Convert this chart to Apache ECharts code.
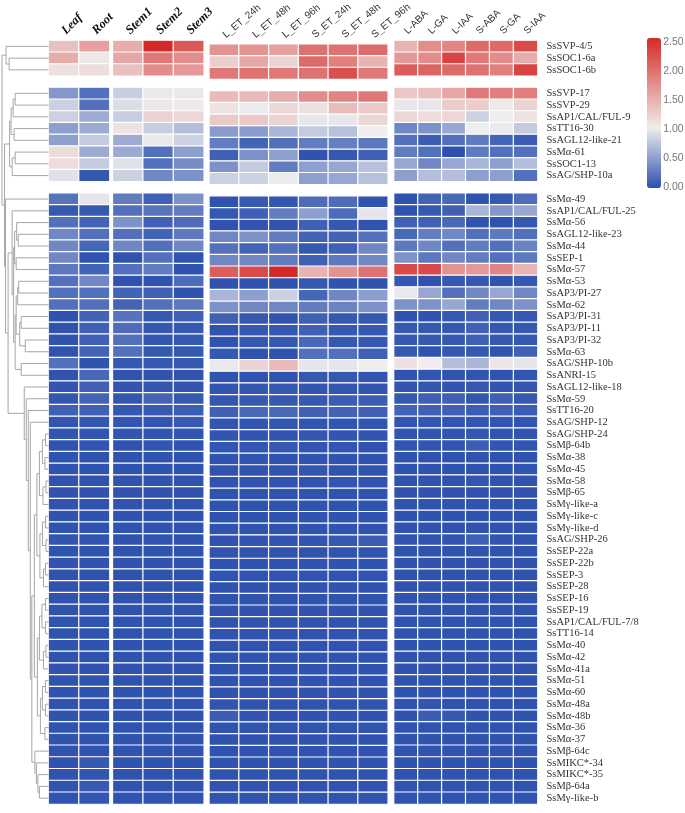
<!DOCTYPE html>
<html>
<head>
<meta charset="utf-8">
<script src="https://cdn.jsdelivr.net/npm/echarts@6/dist/echarts.min.js"></script>
<style>html,body{margin:0;padding:0;background:#fff;}#chart{width:685px;height:813px;}</style>
</head>
<body>
<div id="chart"></div>
<script>
// ---------------- column (sample) labels ----------------
const tissueCols = ['Leaf', 'Root'];
const stemCols = ['Stem1', 'Stem2', 'Stem3'];
const etCols = ['L_ET_24h', 'L_ET_48h', 'L_ET_96h', 'S_ET_24h', 'S_ET_48h', 'S_ET_96h'];
const hormoneCols = ['L-ABA', 'L-GA', 'L-IAA', 'S-ABA', 'S-GA', 'S-IAA'];

// ---------------- gene clusters (row labels) ----------------
const genesA = ['SsSVP-4/5', 'SsSOC1-6a', 'SsSOC1-6b'];
const genesB = ['SsSVP-17', 'SsSVP-29', 'SsAP1/CAL/FUL-9', 'SsTT16-30', 'SsAGL12-like-21', 'SsMα-61', 'SsSOC1-13', 'SsAG/SHP-10a'];
const genesC = ['SsMα-49', 'SsAP1/CAL/FUL-25', 'SsMα-56', 'SsAGL12-like-23', 'SsMα-44', 'SsSEP-1', 'SsMα-57', 'SsMα-53',
  'SsAP3/PI-27', 'SsMα-62', 'SsAP3/PI-31', 'SsAP3/PI-11', 'SsAP3/PI-32', 'SsMα-63', 'SsAG/SHP-10b', 'SsANRI-15',
  'SsAGL12-like-18', 'SsMα-59', 'SsTT16-20', 'SsAG/SHP-12', 'SsAG/SHP-24', 'SsMβ-64b', 'SsMα-38', 'SsMα-45', 'SsMα-58',
  'SsMβ-65', 'SsMγ-like-a', 'SsMγ-like-c', 'SsMγ-like-d', 'SsAG/SHP-26', 'SsSEP-22a', 'SsSEP-22b', 'SsSEP-3', 'SsSEP-28',
  'SsSEP-16', 'SsSEP-19', 'SsAP1/CAL/FUL-7/8', 'SsTT16-14', 'SsMα-40', 'SsMα-42', 'SsMα-41a', 'SsMα-51', 'SsMα-60',
  'SsMα-48a', 'SsMα-48b', 'SsMα-36', 'SsMα-37', 'SsMβ-64c', 'SsMIKC*-34', 'SsMIKC*-35', 'SsMβ-64a', 'SsMγ-like-b'];

// ---------------- expression values (17 columns per gene) ----------------
// order: Leaf, Root, Stem1-3, L_ET 24/48/96h, S_ET 24/48/96h, L-ABA, L-GA, L-IAA, S-ABA, S-GA, S-IAA
const valuesA = [
  [1.35, 1.6, 1.5, 2.5, 2.15, 1.7, 1.7, 1.6, 1.95, 1.95, 2.0, 1.45, 1.75, 1.8, 2.0, 2.0, 2.25],
  [1.5, 1.05, 1.55, 1.9, 1.75, 1.25, 1.55, 1.2, 2.0, 1.85, 1.45, 1.65, 1.75, 2.3, 1.9, 1.75, 1.5],
  [1.1, 1.12, 1.35, 1.75, 1.65, 1.9, 1.95, 1.9, 1.95, 2.2, 1.9, 2.1, 2.05, 2.0, 1.95, 1.85, 2.3]
];
const valuesB = [
  [0.45, 0.2, 0.8, 0.97, 0.97, 1.4, 1.4, 1.5, 1.75, 1.8, 1.9, 1.3, 1.35, 1.55, 1.9, 1.85, 1.85],
  [0.82, 0.2, 0.9, 1.05, 1.03, 1.08, 0.98, 1.17, 1.1, 1.38, 1.28, 0.96, 0.96, 1.25, 1.25, 1.03, 1.2],
  [0.82, 0.58, 0.8, 1.22, 1.17, 1.28, 1.28, 1.2, 0.96, 0.96, 1.17, 1.17, 1.13, 1.18, 0.82, 1.0, 1.08],
  [0.5, 0.58, 1.08, 0.8, 0.7, 0.48, 0.48, 0.65, 0.78, 0.72, 1.0, 0.35, 0.42, 0.55, 1.0, 0.98, 0.78],
  [0.5, 0.78, 0.58, 0.97, 0.82, 0.28, 0.12, 0.2, 0.28, 0.3, 0.25, 0.2, 0.08, 0.2, 0.27, 0.13, 0.08],
  [1.15, 0.58, 0.58, 0.2, 0.5, 0.1, 0.42, 0.5, 0.02, 0.05, 0.1, 0.27, 0.2, 0.0, 0.27, 0.2, 0.2],
  [1.12, 0.78, 0.93, 0.2, 0.38, 0.42, 0.78, 0.28, 0.5, 0.55, 0.72, 0.55, 0.35, 0.55, 0.65, 0.5, 0.7],
  [0.93, 0.05, 0.82, 0.35, 0.42, 0.82, 0.82, 0.98, 0.5, 0.55, 0.72, 0.5, 0.7, 0.7, 0.5, 0.5, 0.2]
];
const valuesC = [
  [0.22, 0.95, 0.28, 0.1, 0.42, 0.02, 0.06, 0.04, 0.18, 0.18, 0.02, 0.02, 0.12, 0.15, 0.02, 0.05, 0.18],
  [0.05, 0.05, 0.2, 0.22, 0.28, 0.05, 0.1, 0.28, 0.5, 0.18, 0.95, 0.02, 0.05, 0.1, 0.65, 0.45, 0.55],
  [0.2, 0.12, 0.42, 0.1, 0.18, 0.02, 0.02, 0.02, 0.1, 0.05, 0.02, 0.1, 0.1, 0.15, 0.02, 0.02, 0.05],
  [0.35, 0.2, 0.2, 0.12, 0.26, 0.35, 0.42, 0.28, 0.12, 0.12, 0.2, 0.15, 0.28, 0.35, 0.2, 0.25, 0.2],
  [0.35, 0.14, 0.35, 0.2, 0.35, 0.2, 0.12, 0.2, 0.05, 0.1, 0.35, 0.25, 0.35, 0.2, 0.28, 0.2, 0.32],
  [0.35, 0.02, 0.02, 0.2, 0.02, 0.35, 0.35, 0.28, 0.1, 0.25, 0.35, 0.42, 0.25, 0.35, 0.28, 0.2, 0.25],
  [0.25, 0.12, 0.2, 0.28, 0.02, 2.1, 2.25, 2.5, 1.45, 1.7, 1.95, 2.25, 2.25, 1.7, 1.65, 1.8, 1.45],
  [0.2, 0.35, 0.02, 0.02, 0.18, 0.02, 0.02, 0.02, 0.05, 0.02, 0.02, 0.05, 0.02, 0.05, 0.05, 0.02, 0.05],
  [0.2, 0.2, 0.12, 0.1, 0.02, 0.65, 0.5, 0.82, 0.14, 0.35, 0.5, 0.97, 0.55, 0.2, 0.35, 0.55, 0.35],
  [0.2, 0.2, 0.12, 0.2, 0.25, 0.42, 0.35, 0.35, 0.28, 0.32, 0.42, 0.42, 0.42, 0.55, 0.28, 0.35, 0.42],
  [0.02, 0.12, 0.22, 0.05, 0.1, 0.1, 0.05, 0.02, 0.1, 0.05, 0.05, 0.02, 0.02, 0.05, 0.1, 0.05, 0.05],
  [0.02, 0.1, 0.18, 0.05, 0.05, 0.02, 0.05, 0.05, 0.1, 0.05, 0.05, 0.05, 0.05, 0.05, 0.1, 0.05, 0.05],
  [0.02, 0.1, 0.2, 0.04, 0.05, 0.02, 0.05, 0.05, 0.15, 0.05, 0.05, 0.05, 0.05, 0.05, 0.1, 0.05, 0.05],
  [0.02, 0.12, 0.2, 0.05, 0.05, 0.05, 0.02, 0.02, 0.2, 0.2, 0.1, 0.05, 0.02, 0.05, 0.05, 0.02, 0.1],
  [0.2, 0.02, 0.05, 0.05, 0.05, 0.97, 1.2, 1.4, 0.95, 0.95, 1.0, 1.1, 1.0, 0.7, 0.65, 1.06, 0.95],
  [0.02, 0.15, 0.02, 0.02, 0.02, 0.02, 0.02, 0.02, 0.05, 0.05, 0.03, 0.02, 0.03, 0.02, 0.03, 0.02, 0.03],
  [0.03, 0.1, 0.03, 0.04, 0.03, 0.03, 0.04, 0.05, 0.03, 0.04, 0.03, 0.03, 0.04, 0.03, 0.05, 0.03, 0.04],
  [0.04, 0.12, 0.04, 0.12, 0.05, 0.04, 0.05, 0.06, 0.05, 0.08, 0.08, 0.05, 0.1, 0.1, 0.04, 0.1, 0.05],
  [0.1, 0.1, 0.05, 0.06, 0.08, 0.1, 0.15, 0.15, 0.1, 0.12, 0.1, 0.12, 0.1, 0.1, 0.08, 0.1, 0.08],
  [0.03, 0.04, 0.03, 0.03, 0.06, 0.03, 0.03, 0.04, 0.03, 0.03, 0.03, 0.03, 0.04, 0.03, 0.03, 0.03, 0.03],
  [0.03, 0.03, 0.03, 0.03, 0.03, 0.03, 0.03, 0.03, 0.04, 0.03, 0.03, 0.03, 0.03, 0.03, 0.04, 0.03, 0.03],
  [0.02, 0.03, 0.02, 0.03, 0.02, 0.03, 0.03, 0.05, 0.03, 0.03, 0.02, 0.03, 0.03, 0.03, 0.08, 0.03, 0.03],
  [0.02, 0.02, 0.02, 0.02, 0.02, 0.02, 0.03, 0.02, 0.02, 0.02, 0.02, 0.02, 0.02, 0.02, 0.02, 0.02, 0.02],
  [0.02, 0.02, 0.02, 0.02, 0.02, 0.02, 0.02, 0.02, 0.03, 0.02, 0.02, 0.02, 0.02, 0.02, 0.02, 0.02, 0.03],
  [0.02, 0.02, 0.02, 0.02, 0.02, 0.02, 0.02, 0.02, 0.02, 0.03, 0.02, 0.02, 0.02, 0.02, 0.03, 0.02, 0.02],
  [0.02, 0.02, 0.02, 0.02, 0.02, 0.02, 0.02, 0.02, 0.02, 0.02, 0.02, 0.02, 0.02, 0.02, 0.02, 0.02, 0.02],
  [0.02, 0.02, 0.02, 0.02, 0.02, 0.02, 0.02, 0.02, 0.02, 0.02, 0.02, 0.02, 0.02, 0.02, 0.02, 0.02, 0.02],
  [0.02, 0.02, 0.02, 0.02, 0.02, 0.02, 0.02, 0.02, 0.02, 0.02, 0.02, 0.02, 0.02, 0.02, 0.02, 0.02, 0.02],
  [0.02, 0.02, 0.02, 0.02, 0.02, 0.02, 0.02, 0.02, 0.02, 0.02, 0.02, 0.02, 0.02, 0.02, 0.02, 0.02, 0.02],
  [0.03, 0.03, 0.02, 0.03, 0.02, 0.02, 0.03, 0.03, 0.03, 0.05, 0.08, 0.03, 0.03, 0.03, 0.1, 0.03, 0.03],
  [0.02, 0.02, 0.02, 0.02, 0.02, 0.02, 0.02, 0.02, 0.02, 0.02, 0.02, 0.02, 0.02, 0.02, 0.02, 0.02, 0.02],
  [0.02, 0.02, 0.02, 0.02, 0.02, 0.02, 0.02, 0.02, 0.02, 0.02, 0.02, 0.02, 0.02, 0.02, 0.02, 0.02, 0.02],
  [0.02, 0.02, 0.02, 0.02, 0.02, 0.02, 0.02, 0.02, 0.02, 0.02, 0.02, 0.02, 0.02, 0.02, 0.02, 0.02, 0.02],
  [0.02, 0.02, 0.02, 0.02, 0.02, 0.02, 0.02, 0.02, 0.02, 0.02, 0.02, 0.02, 0.02, 0.02, 0.02, 0.02, 0.02],
  [0.02, 0.02, 0.02, 0.02, 0.02, 0.02, 0.02, 0.02, 0.02, 0.02, 0.02, 0.02, 0.02, 0.02, 0.02, 0.02, 0.02],
  [0.02, 0.02, 0.02, 0.02, 0.02, 0.02, 0.02, 0.02, 0.02, 0.02, 0.02, 0.02, 0.02, 0.02, 0.02, 0.02, 0.02],
  [0.02, 0.02, 0.02, 0.02, 0.02, 0.02, 0.02, 0.02, 0.02, 0.02, 0.02, 0.02, 0.02, 0.02, 0.02, 0.02, 0.02],
  [0.02, 0.02, 0.02, 0.02, 0.02, 0.02, 0.02, 0.02, 0.02, 0.02, 0.02, 0.02, 0.02, 0.02, 0.02, 0.02, 0.02],
  [0.02, 0.02, 0.02, 0.02, 0.02, 0.02, 0.02, 0.02, 0.02, 0.02, 0.02, 0.02, 0.02, 0.02, 0.02, 0.02, 0.02],
  [0.02, 0.02, 0.02, 0.02, 0.02, 0.02, 0.02, 0.02, 0.02, 0.02, 0.02, 0.02, 0.02, 0.02, 0.02, 0.02, 0.02],
  [0.02, 0.02, 0.02, 0.02, 0.02, 0.02, 0.02, 0.02, 0.02, 0.02, 0.02, 0.02, 0.02, 0.02, 0.02, 0.02, 0.02],
  [0.02, 0.02, 0.02, 0.02, 0.02, 0.02, 0.02, 0.02, 0.02, 0.02, 0.02, 0.02, 0.02, 0.02, 0.02, 0.02, 0.02],
  [0.02, 0.02, 0.02, 0.02, 0.02, 0.02, 0.02, 0.02, 0.02, 0.02, 0.02, 0.02, 0.02, 0.02, 0.02, 0.02, 0.02],
  [0.02, 0.02, 0.02, 0.02, 0.02, 0.03, 0.02, 0.02, 0.02, 0.02, 0.02, 0.02, 0.03, 0.02, 0.02, 0.02, 0.02],
  [0.02, 0.02, 0.02, 0.02, 0.02, 0.08, 0.03, 0.02, 0.02, 0.02, 0.02, 0.02, 0.08, 0.06, 0.02, 0.02, 0.02],
  [0.02, 0.02, 0.02, 0.02, 0.02, 0.02, 0.02, 0.02, 0.02, 0.02, 0.02, 0.02, 0.02, 0.02, 0.02, 0.02, 0.02],
  [0.02, 0.02, 0.02, 0.02, 0.02, 0.02, 0.02, 0.02, 0.02, 0.02, 0.02, 0.02, 0.02, 0.02, 0.02, 0.02, 0.02],
  [0.02, 0.02, 0.02, 0.02, 0.02, 0.02, 0.02, 0.02, 0.02, 0.02, 0.02, 0.02, 0.02, 0.02, 0.02, 0.02, 0.02],
  [0.02, 0.06, 0.02, 0.02, 0.02, 0.02, 0.02, 0.02, 0.02, 0.02, 0.02, 0.02, 0.02, 0.02, 0.02, 0.02, 0.02],
  [0.02, 0.03, 0.02, 0.02, 0.02, 0.02, 0.02, 0.02, 0.02, 0.02, 0.02, 0.02, 0.02, 0.02, 0.02, 0.02, 0.02],
  [0.02, 0.06, 0.02, 0.02, 0.02, 0.02, 0.02, 0.02, 0.02, 0.02, 0.02, 0.02, 0.02, 0.02, 0.02, 0.02, 0.02],
  [0.02, 0.03, 0.02, 0.02, 0.02, 0.02, 0.02, 0.02, 0.02, 0.02, 0.02, 0.02, 0.02, 0.02, 0.02, 0.02, 0.02]
];

// ---------------- dendrogram: [height, child, child]; leaves are row slots ----------------
const denseG1 = [6, [3, 33, 34], [3.5, 35, 36]];
const denseG2 = [5.5, [2.5, 37, 38], 39];
const denseG3 = [6, [3, 40, 41], [2.5, 42, 43]];
const denseG4 = [5, [3, 44, 45], 46];
const denseG5 = [6.5, [3, 47, 48], [3, 49, 50]];
const denseG6 = [5, [2.5, 51, 52], 53];
const denseG7 = [6, [3, 54, 55], [3, 56, 57]];
const denseG8 = [3.5, 58, 59];
const treeDense = [14, [11.5, [9, denseG1, denseG2], [8.5, denseG3, denseG4]], [11, [9, denseG5, denseG6], [8, denseG7, denseG8]]];
const treeTail = [13.5, 60, [12, 61, [10.5, 62, [9, 63, 64]]]];
const treeLow = [24, 29, [22, 30, [20, 31, [18, 32, [16.5, treeDense, treeTail]]]]];
const treeUp = [36, 14, [34.5, [33.5, [31.5, 15, [30, 16, 17]], [32, 18, 19]],
  [33, [32, [30.5, [29.5, 20, 21], 22], [28.5, [27, 23, 24], [23, 25, 26]]], [27, 27, 28]]]];
const treeA = [42, 0, [39, 1, 2]];
const treeB = [38.5, [37, [35, [33, 4, 5], 6], [34, 7, 8]], [36, [33, 9, 10], 11]];
const treeC = [42.5, 13, [40, treeUp, treeLow]];
const dendroTree = [46, treeA, [43.5, treeB, treeC]];

// colour scale ticks
const scaleTicks = [0, 0.5, 1, 1.5, 2, 2.5];
const scaleColors = ['#2b50ae', '#8d9fce', '#efeded', '#e7adac', '#dd6b69', '#d42a27'];

// ---------------- build ----------------
const rowLabels = [].concat(genesA, [''], genesB, [''], genesC);
const rowValues = [].concat(valuesA, [null], valuesB, [null], valuesC);
const nSlots = rowLabels.length;

const colGroups = [tissueCols, stemCols, etCols, hormoneCols];
const gridX = [[48.5, 61], [112.8, 91], [209.3, 178.5], [394, 143.5]];
const TOP = 40.5, HEIGHT = 763.5;

let colOffset = 0;
const heatSeries = [];
colGroups.forEach((cols, g) => {
  const data = [];
  rowValues.forEach((row, s) => {
    if (!row) return;
    cols.forEach((c, j) => data.push([j, s, row[colOffset + j]]));
  });
  heatSeries.push({
    type: 'heatmap', xAxisIndex: g, yAxisIndex: g, data: data, silent: true,
    itemStyle: { borderColor: '#ffffff', borderWidth: 1.2 }
  });
  colOffset += cols.length;
});

const dendroLines = [];
function walk(node) {
  if (typeof node === 'number') return { y: node, h: 0 };
  const a = walk(node[1]), b = walk(node[2]);
  const h = node[0];
  dendroLines.push({ coords: [[a.h, a.y], [h, a.y], [h, b.y], [b.h, b.y]] });
  return { y: (a.y + b.y) / 2, h: h };
}
walk(dendroTree);

const grids = gridX.map(g => ({ left: g[0], width: g[1], top: TOP, height: HEIGHT }));
grids.push({ left: 0, width: 48.5, top: TOP, height: HEIGHT });
grids.push({ left: 661, width: 1, top: 42, height: 145 });

const serifBold = { fontFamily: 'Liberation Serif', fontStyle: 'italic', fontWeight: 'bold', fontSize: 12.5, color: '#111' };
const sansLab = { fontFamily: 'Liberation Sans', fontSize: 10, color: '#333' };

const xAxes = colGroups.map((cols, g) => ({
  type: 'category', gridIndex: g, data: cols, position: 'top',
  axisLine: { show: false }, axisTick: { show: false }, splitLine: { show: false },
  axisLabel: Object.assign({ interval: 0, rotate: g === 2 ? -40 : -45, margin: 8 }, g < 2 ? serifBold : sansLab)
}));
xAxes.push({ type: 'value', gridIndex: 4, min: 0, max: 48, inverse: true, show: false });
xAxes.push({ type: 'value', gridIndex: 5, show: false, min: 0, max: 1 });

const yAxes = colGroups.map((cols, g) => ({
  type: 'category', gridIndex: g, data: rowLabels, inverse: true,
  position: 'right', show: g === 3,
  axisLine: { show: false }, axisTick: { show: false }, splitLine: { show: false },
  axisLabel: { interval: 0, margin: 9, fontFamily: 'Liberation Serif', fontSize: 10.5, color: '#333' }
}));
yAxes.push({ type: 'value', gridIndex: 4, min: -0.5, max: nSlots - 0.5, inverse: true, show: false });
yAxes.push({
  type: 'value', gridIndex: 5, min: scaleTicks[0], max: scaleTicks[scaleTicks.length - 1], interval: 0.5,
  position: 'right', axisLine: { show: false }, axisTick: { show: false }, splitLine: { show: false },
  axisLabel: { margin: 2, fontFamily: 'Liberation Sans', fontSize: 10.5, color: '#777', formatter: v => v.toFixed(2) }
});

const chart = echarts.init(document.getElementById('chart'), null, { renderer: 'canvas' });
chart.setOption({
  animation: false,
  backgroundColor: '#ffffff',
  grid: grids,
  xAxis: xAxes,
  yAxis: yAxes,
  visualMap: {
    type: 'continuous', min: 0, max: 2.5, calculable: false, seriesIndex: [0, 1, 2, 3],
    left: 642, top: 33, itemWidth: 14, itemHeight: 150, text: ['', ''], padding: 5,
    inRange: { color: scaleColors }
  },
  series: heatSeries.concat([{
    type: 'lines', coordinateSystem: 'cartesian2d', xAxisIndex: 4, yAxisIndex: 4,
    polyline: true, silent: true, data: dendroLines,
    lineStyle: { color: '#a6a6a6', width: 1, opacity: 1 }
  }])
});
</script>
</body>
</html>
